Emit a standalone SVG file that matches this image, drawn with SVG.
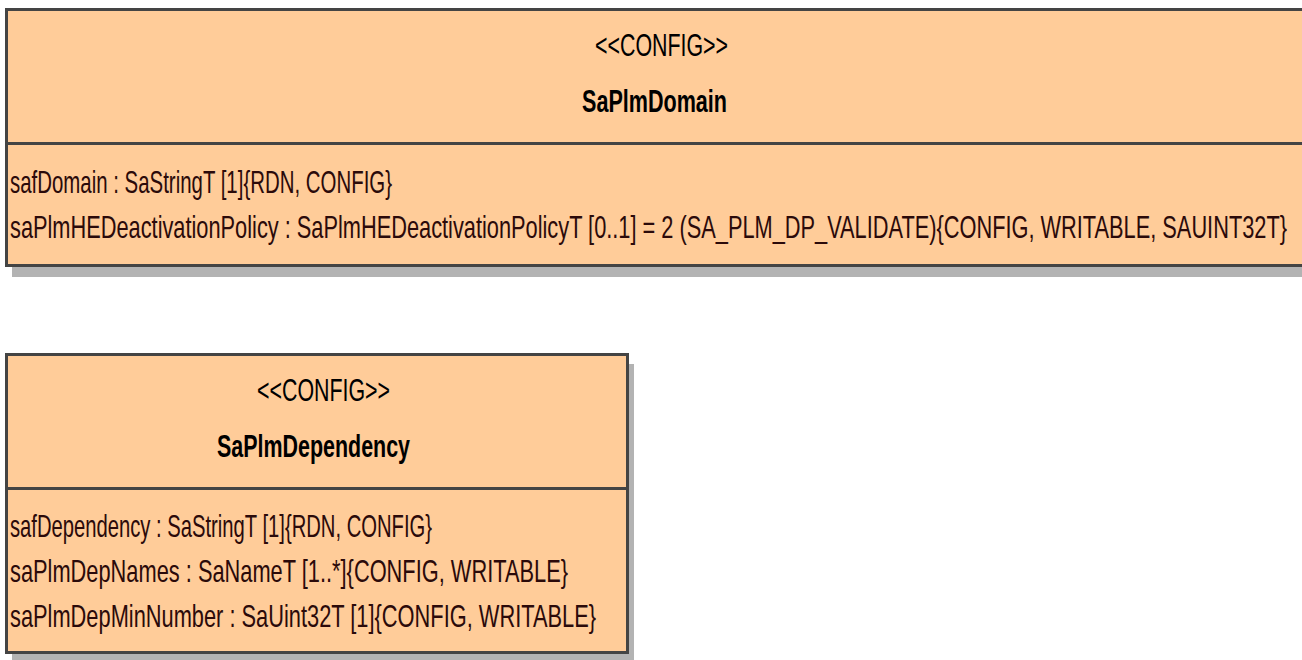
<svg xmlns="http://www.w3.org/2000/svg" width="1302" height="660" viewBox="0 0 1302 660">
<style>
.box{fill:#FFCC99;stroke:#444444;stroke-width:3}
.shadow{fill:#B3B3B3}
.div{stroke:#444444;stroke-width:3}
text{font-family:"Liberation Sans",Arial,sans-serif;font-size:32px}
.st{fill:#000000}
.ti{fill:#000000;font-weight:bold}
.at{fill:#2B0A0A}
</style>
<rect width="1302" height="660" fill="#FFFFFF"/>
<g id="SaPlmDomain">
<rect class="shadow" x="12" y="18" width="1320" height="259"/>
<rect class="box" x="6.5" y="9.5" width="1320" height="256"/>
<line class="div" x1="6.5" y1="143.5" x2="1310" y2="143.5"/>
<text class="st" x="595" y="56" textLength="133" lengthAdjust="spacingAndGlyphs">&lt;&lt;CONFIG&gt;&gt;</text>
<text class="ti" x="582" y="112" textLength="145" lengthAdjust="spacingAndGlyphs">SaPlmDomain</text>
<text class="at" x="10" y="193" textLength="382" lengthAdjust="spacingAndGlyphs">safDomain : SaStringT [1]{RDN, CONFIG}</text>
<text class="at" x="10" y="238" textLength="1277" lengthAdjust="spacingAndGlyphs">saPlmHEDeactivationPolicy : SaPlmHEDeactivationPolicyT [0..1] = 2 (SA_PLM_DP_VALIDATE){CONFIG, WRITABLE, SAUINT32T}</text>
</g>
<g id="SaPlmDependency">
<rect class="shadow" x="12" y="364" width="622" height="296"/>
<rect class="box" x="6.5" y="354.5" width="621" height="298"/>
<line class="div" x1="6.5" y1="488.5" x2="627.5" y2="488.5"/>
<text class="st" x="257" y="401" textLength="133" lengthAdjust="spacingAndGlyphs">&lt;&lt;CONFIG&gt;&gt;</text>
<text class="ti" x="217" y="457" textLength="193" lengthAdjust="spacingAndGlyphs">SaPlmDependency</text>
<text class="at" x="10" y="537" textLength="422" lengthAdjust="spacingAndGlyphs">safDependency : SaStringT [1]{RDN, CONFIG}</text>
<text class="at" x="10" y="582" textLength="558" lengthAdjust="spacingAndGlyphs">saPlmDepNames : SaNameT [1..*]{CONFIG, WRITABLE}</text>
<text class="at" x="10" y="627" textLength="586" lengthAdjust="spacingAndGlyphs">saPlmDepMinNumber : SaUint32T [1]{CONFIG, WRITABLE}</text>
</g>
<g id="connectors"/>
</svg>
